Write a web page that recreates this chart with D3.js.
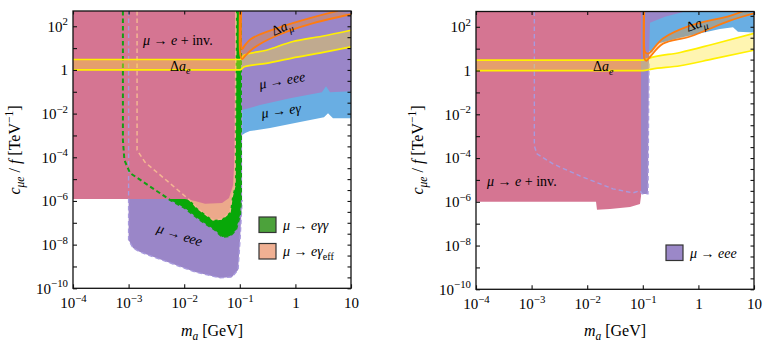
<!DOCTYPE html>
<html>
<head>
<meta charset="utf-8">
<script src="https://cdn.jsdelivr.net/npm/d3@7"></script>
<style>
  body { margin: 0; background: #fff; }
  text { font-family: "Liberation Serif", "DejaVu Serif", serif; }
</style>
</head>
<body>
<div id="chart"></div>
<script>
let w = 773;
let h = 349;

// tick values / labels  [base, exponent]
let xTickVals = [1e-4, 1e-3, 1e-2, 1e-1, 1, 10];
let xTickLabels = [["10","−4"],["10","−3"],["10","−2"],["10","−1"],["1",""],["10",""]];
let yTickVals = [1e2, 1, 1e-2, 1e-4, 1e-6, 1e-8, 1e-10];
let yTickLabels = [["10","2"],["1",""],["10","−2"],["10","−4"],["10","−6"],["10","−8"],["10","−10"]];

// regions, points are [m_a (GeV), c/f (TeV^-1)]
// left panel
let eGammaLeft = [[0.11,500],[0.11,1.04e-3],[0.125,1.3e-3],[0.152,1.58e-3],[0.35,2.17e-3],[1.21,4.1e-3],[3.27,6.9e-3],[3.86,0.0105],[4.74,6.2e-3],[10,6.2e-3],[10,500]];
let eeeLeft = [[1.0e-3,500],[1.0e-3,1.63e-8],[1.2e-3,7.0e-9],[1.6e-3,4.6e-9],[0.0156,5.6e-10],[0.044,3.0e-10],[0.0725,3.3e-10],[0.093,6.9e-10],[0.101,1.63e-8],[0.11,1.1e-6],[0.11,0.0145],[0.23,0.0245],[0.8,0.051],[3.0,0.096],[3.55,0.18],[4.19,0.096],[10,0.107],[10,500]];
let eggLeft = [[7.9e-4,500],[7.9e-4,6.1e-4],[8.4e-4,7.5e-5],[1.06e-3,1.9e-5],[5.6e-3,1.1e-6],[0.0103,4.7e-7],[0.0192,1.34e-7],[0.0358,4.7e-8],[0.048,2.25e-8],[0.0667,2.5e-8],[0.0855,4.7e-8],[0.101,2.26e-7],[0.105,1.1e-6],[0.105,500]];
let egEffLeft = [[1.42e-3,500],[1.42e-3,2.1e-4],[1.97e-3,6.0e-5],[0.0138,8.9e-7],[0.017,4.7e-7],[0.033,1.34e-7],[0.048,1.48e-7],[0.0667,3.1e-7],[0.0725,1.5e-6],[0.082,5.3e-6],[0.0855,500]];
let invLeft = [[1e-4,500],[0.082,500],[0.082,2.1e-4],[0.0755,5.3e-6],[0.064,1.36e-6],[0.048,8.0e-7],[0.0237,7.5e-7],[0.0156,9.9e-7],[0.0103,1.22e-6],[1e-4,1.22e-6]];

let aeMassLeft = [1e-4, 0.1, 0.12, 0.3, 0.87, 3, 10];
let aeLowLeft  = [1.0, 1.0, 1.4, 2.0, 3.5, 6.2, 11.4];
let aeHighLeft = [3.0, 3.0, 4.8, 8.0, 19.5, 35, 66];
let amuLowLeft  = [[0.1,500],[0.1,8.1],[0.103,4.3],[0.11,3.1],[0.124,4.3],[0.152,7.2],[0.212,13.6],[0.53,43],[1.83,126],[10,355]];
let amuHighLeft = [[0.106,500],[0.106,13.6],[0.11,8.9],[0.124,13.6],[0.152,24],[0.212,39],[0.53,91],[1.83,236],[5.8,500]];

// right panel
let eGammaRight = [[0.124,500],[0.124,8.1],[0.146,6.6],[0.18,16.8],[0.467,31.6],[2.44,79],[4.19,96],[5.15,60],[10,55],[10,500]];
let eeeRight = [[1.12e-3,500],[1.12e-3,3.6e-4],[1.25e-3,1.55e-4],[2.43e-3,5.4e-5],[7.4e-3,1.53e-5],[0.029,3.9e-6],[0.0667,2.56e-6],[0.089,3.2e-6],[0.097,2.3e-6],[0.124,2.3e-6],[0.129,2.8],[0.1345,155],[0.25,290],[0.574,500]];
let invRight = [[1e-4,500],[0.093,500],[0.093,1.86e-6],[0.089,8e-7],[0.059,5.8e-7],[0.0257,4.7e-7],[0.015,4.3e-7],[0.0144,1e-6],[1e-4,1e-6]];

let aeMassRight = [1e-4, 0.1, 0.145, 0.47, 1.83, 10];
let aeLowRight  = [1.0, 1.0, 1.17, 1.66, 3.4, 8.5];
let aeHighRight = [3.0, 3.0, 4.0, 6.7, 16, 50];
let amuLowRight  = [[0.104,500],[0.104,7],[0.107,3.4],[0.116,2.8],[0.135,4.2],[0.23,16.8],[0.71,36],[3.7,190],[10,410]];
let amuHighRight = [[0.106,500],[0.106,12],[0.11,7],[0.124,5.9],[0.23,29],[0.71,112],[3.7,316],[6.2,500]];

// colours
let cInv = "#d57592", cEee = "#9a86c8", cEg = "#69aee3", cEgg = "#08a808", cEff = "#eca98b";

let svg = d3.select("#chart").append("svg")
  .attr("width", w)
  .attr("height", h);

// rich text: parts = [{t, i, sub, sup}]
function rich(sel, parts, size){
  sel.attr("font-size", size);
  let shift = 0;
  parts.forEach(p => {
    if (!p.t) return;
    let s = p.sub ? size*0.28 : p.sup ? -size*0.42 : 0;
    let ts = sel.append("tspan").text(p.t);
    if (s - shift !== 0) ts.attr("dy", s - shift);
    if (p.i) ts.attr("font-style", "italic");
    if (p.sub || p.sup) ts.attr("font-size", size*0.72);
    shift = s;
  });
  return sel;
}

function drawPanel(p){
  let x = d3.scaleLog().domain([1e-4, 10]).range([p.left, p.right]);
  let y = d3.scaleLog().domain([1e-10, 500]).range([p.bottom, p.top]);
  let line = d3.line().x(d => x(d[0])).y(d => y(d[1]));

  svg.append("clipPath").attr("id", p.id)
    .append("rect")
    .attr("x", p.left).attr("y", p.top)
    .attr("width", p.right - p.left).attr("height", p.bottom - p.top);

  let g = svg.append("g").attr("clip-path", "url(#" + p.id + ")");

  // filled regions
  p.regions.forEach(r => {
    g.append("path").attr("d", line(r.pts) + "Z").attr("fill", r.color);
  });
  // dashed borders
  p.borders.forEach(b => {
    g.append("path").attr("d", line(b.pts))
      .attr("fill", "none").attr("stroke", b.color)
      .attr("stroke-width", b.width).attr("stroke-dasharray", "4.5,3");
  });

  // delta a_e band
  let area = d3.area()
    .x((d,i) => x(p.aeMass[i]))
    .y0((d,i) => y(p.aeLow[i]))
    .y1((d,i) => y(p.aeHigh[i]))
    .curve(d3.curveMonotoneX);
  g.append("path").attr("d", area(p.aeMass)).attr("fill", "rgba(255,228,50,0.38)");
  let aeLine = d3.line().x((d,i) => x(p.aeMass[i])).y(d => y(d)).curve(d3.curveMonotoneX);
  [p.aeLow, p.aeHigh].forEach(arr => {
    g.append("path").attr("d", aeLine(arr))
      .attr("fill", "none").attr("stroke", "#fff000").attr("stroke-width", 1.7);
  });

  // delta a_mu band
  let cr = d3.line().x(d => x(d[0])).y(d => y(d[1])).curve(d3.curveCatmullRom.alpha(0.5));
  g.append("path")
    .attr("d", cr(p.amuLow) + cr(p.amuHigh.slice().reverse()).replace(/^M/, "L") + "Z")
    .attr("fill", "rgba(255,140,20,0.32)");
  [p.amuLow, p.amuHigh].forEach(arr => {
    g.append("path").attr("d", cr(arr))
      .attr("fill", "none").attr("stroke", "#ff7c10").attr("stroke-width", 1.8);
  });

  // labels inside plot
  p.labels.forEach(l => {
    let t = g.append("text")
      .attr("transform", "translate(" + l.x + "," + l.y + ") rotate(" + (l.rot || 0) + ")");
    rich(t, l.parts, 14);
  });

  // legend
  p.legend.forEach(l => {
    svg.append("rect").attr("x", l.x).attr("y", l.y).attr("width", 17).attr("height", 15.5)
      .attr("fill", l.color).attr("stroke", "#333").attr("stroke-width", 1.2);
    rich(svg.append("text").attr("x", l.x + 24).attr("y", l.y + 12.5), l.parts, 14);
  });

  // frame and ticks
  let axes = svg.append("g");
  axes.append("rect")
    .attr("x", p.left).attr("y", p.top)
    .attr("width", p.right - p.left).attr("height", p.bottom - p.top)
    .attr("fill", "none").attr("stroke", "#111").attr("stroke-width", 1.3);

  let halfDecades = d3.range(-10, 3, 0.5).map(k => Math.pow(10, k)).filter(v => v <= 500);

  let ax = axes.append("g").attr("transform", "translate(0," + p.bottom + ")")
    .call(d3.axisBottom(x).tickValues(xTickVals).tickSize(-4).tickPadding(9).tickFormat(""));
  ax.selectAll(".tick text").each(function(d, i){
    let lab = xTickLabels[i];
    rich(d3.select(this), [{t: lab[0]}, {t: lab[1], sup: 1}], 15);
  });
  let ay = axes.append("g").attr("transform", "translate(" + p.left + ",0)")
    .call(d3.axisLeft(y).tickValues(yTickVals.concat([1e1,1e-1,1e-3,1e-5,1e-7,1e-9])).tickSize(-4).tickPadding(5).tickFormat(""));
  ay.selectAll(".tick text").each(function(d, i){
    let lab = yTickLabels[i];
    if (!lab) return;
    rich(d3.select(this), [{t: lab[0]}, {t: lab[1], sup: 1}], 15);
  });
  axes.append("g").attr("transform", "translate(" + p.right + ",0)")
    .call(d3.axisRight(y).tickValues(halfDecades).tickSize(-3.5).tickFormat(""));
  axes.append("g").attr("transform", "translate(0," + p.top + ")")
    .call(d3.axisTop(x).tickValues(xTickVals).tickSize(-3.5).tickFormat(""));
  axes.selectAll("g").attr("font-family", null);
  axes.selectAll(".domain").remove();
  axes.selectAll(".tick line").attr("stroke", "#111").attr("stroke-width", 1.1);

  // axis titles
  rich(svg.append("text").attr("x", (p.left + p.right) / 2).attr("y", 336).attr("text-anchor", "middle"),
    [{t: "m", i: 1}, {t: "a", i: 1, sub: 1}, {t: " [GeV]"}], 16);
  rich(svg.append("text").attr("transform", "translate(" + (p.left - 53) + ",150) rotate(-90)").attr("text-anchor", "middle"),
    [{t: "c", i: 1}, {t: "μe", i: 1, sub: 1}, {t: " / "}, {t: "f", i: 1}, {t: " [TeV"}, {t: "−1", sup: 1}, {t: "]"}], 16);
}

let arrow = " → ";

drawPanel({
  id: "clipL", left: 73, right: 351, top: 11, bottom: 288.3,
  regions: [
    {pts: eGammaLeft, color: cEg},
    {pts: eeeLeft, color: cEee},
    {pts: eggLeft, color: cEgg},
    {pts: egEffLeft, color: cEff},
    {pts: invLeft, color: cInv}
  ],
  borders: [
    {pts: eeeLeft.slice(0, 10), color: "#a89ade", width: 1.4},
    {pts: egEffLeft, color: "#f4b693", width: 1.5},
    {pts: eggLeft, color: "#13a013", width: 2}
  ],
  aeMass: aeMassLeft, aeLow: aeLowLeft, aeHigh: aeHighLeft,
  amuLow: amuLowLeft, amuHigh: amuHighLeft,
  labels: [
    {x: 143, y: 45, parts: [{t: "μ", i: 1}, {t: arrow}, {t: "e", i: 1}, {t: " + inv."}]},
    {x: 170, y: 70.5, parts: [{t: "Δ"}, {t: "a", i: 1}, {t: "e", i: 1, sub: 1}]},
    {x: 274, y: 36, rot: -24, parts: [{t: "Δ"}, {t: "a", i: 1}, {t: "μ", i: 1, sub: 1}]},
    {x: 260, y: 89, rot: -10, parts: [{t: "μ", i: 1}, {t: arrow}, {t: "eee", i: 1}]},
    {x: 262, y: 118, rot: -8, parts: [{t: "μ", i: 1}, {t: arrow}, {t: "eγ", i: 1}]},
    {x: 156, y: 232, rot: 18, parts: [{t: "μ", i: 1}, {t: arrow}, {t: "eee", i: 1}]}
  ],
  legend: [
    {x: 259, y: 217, color: "#4ca23b", parts: [{t: "μ", i: 1}, {t: arrow}, {t: "eγγ", i: 1}]},
    {x: 259, y: 243.5, color: "#f0b093", parts: [{t: "μ", i: 1}, {t: arrow}, {t: "eγ", i: 1}, {t: "eff", sub: 1}]}
  ]
});

drawPanel({
  id: "clipR", left: 476, right: 754, top: 11.5, bottom: 289.3,
  regions: [
    {pts: eGammaRight, color: cEg},
    {pts: eeeRight, color: cEee},
    {pts: invRight, color: cInv}
  ],
  borders: [
    {pts: eeeRight.slice(0, 11), color: "#a89ade", width: 1.4}
  ],
  aeMass: aeMassRight, aeLow: aeLowRight, aeHigh: aeHighRight,
  amuLow: amuLowRight, amuHigh: amuHighRight,
  labels: [
    {x: 593, y: 71, parts: [{t: "Δ"}, {t: "a", i: 1}, {t: "e", i: 1, sub: 1}]},
    {x: 688, y: 32, rot: -20, parts: [{t: "Δ"}, {t: "a", i: 1}, {t: "μ", i: 1, sub: 1}]},
    {x: 487, y: 186, parts: [{t: "μ", i: 1}, {t: arrow}, {t: "e", i: 1}, {t: " + inv."}]}
  ],
  legend: [
    {x: 666, y: 245, color: "#9b88c8", parts: [{t: "μ", i: 1}, {t: arrow}, {t: "eee", i: 1}]}
  ]
});
</script>
</body>
</html>
